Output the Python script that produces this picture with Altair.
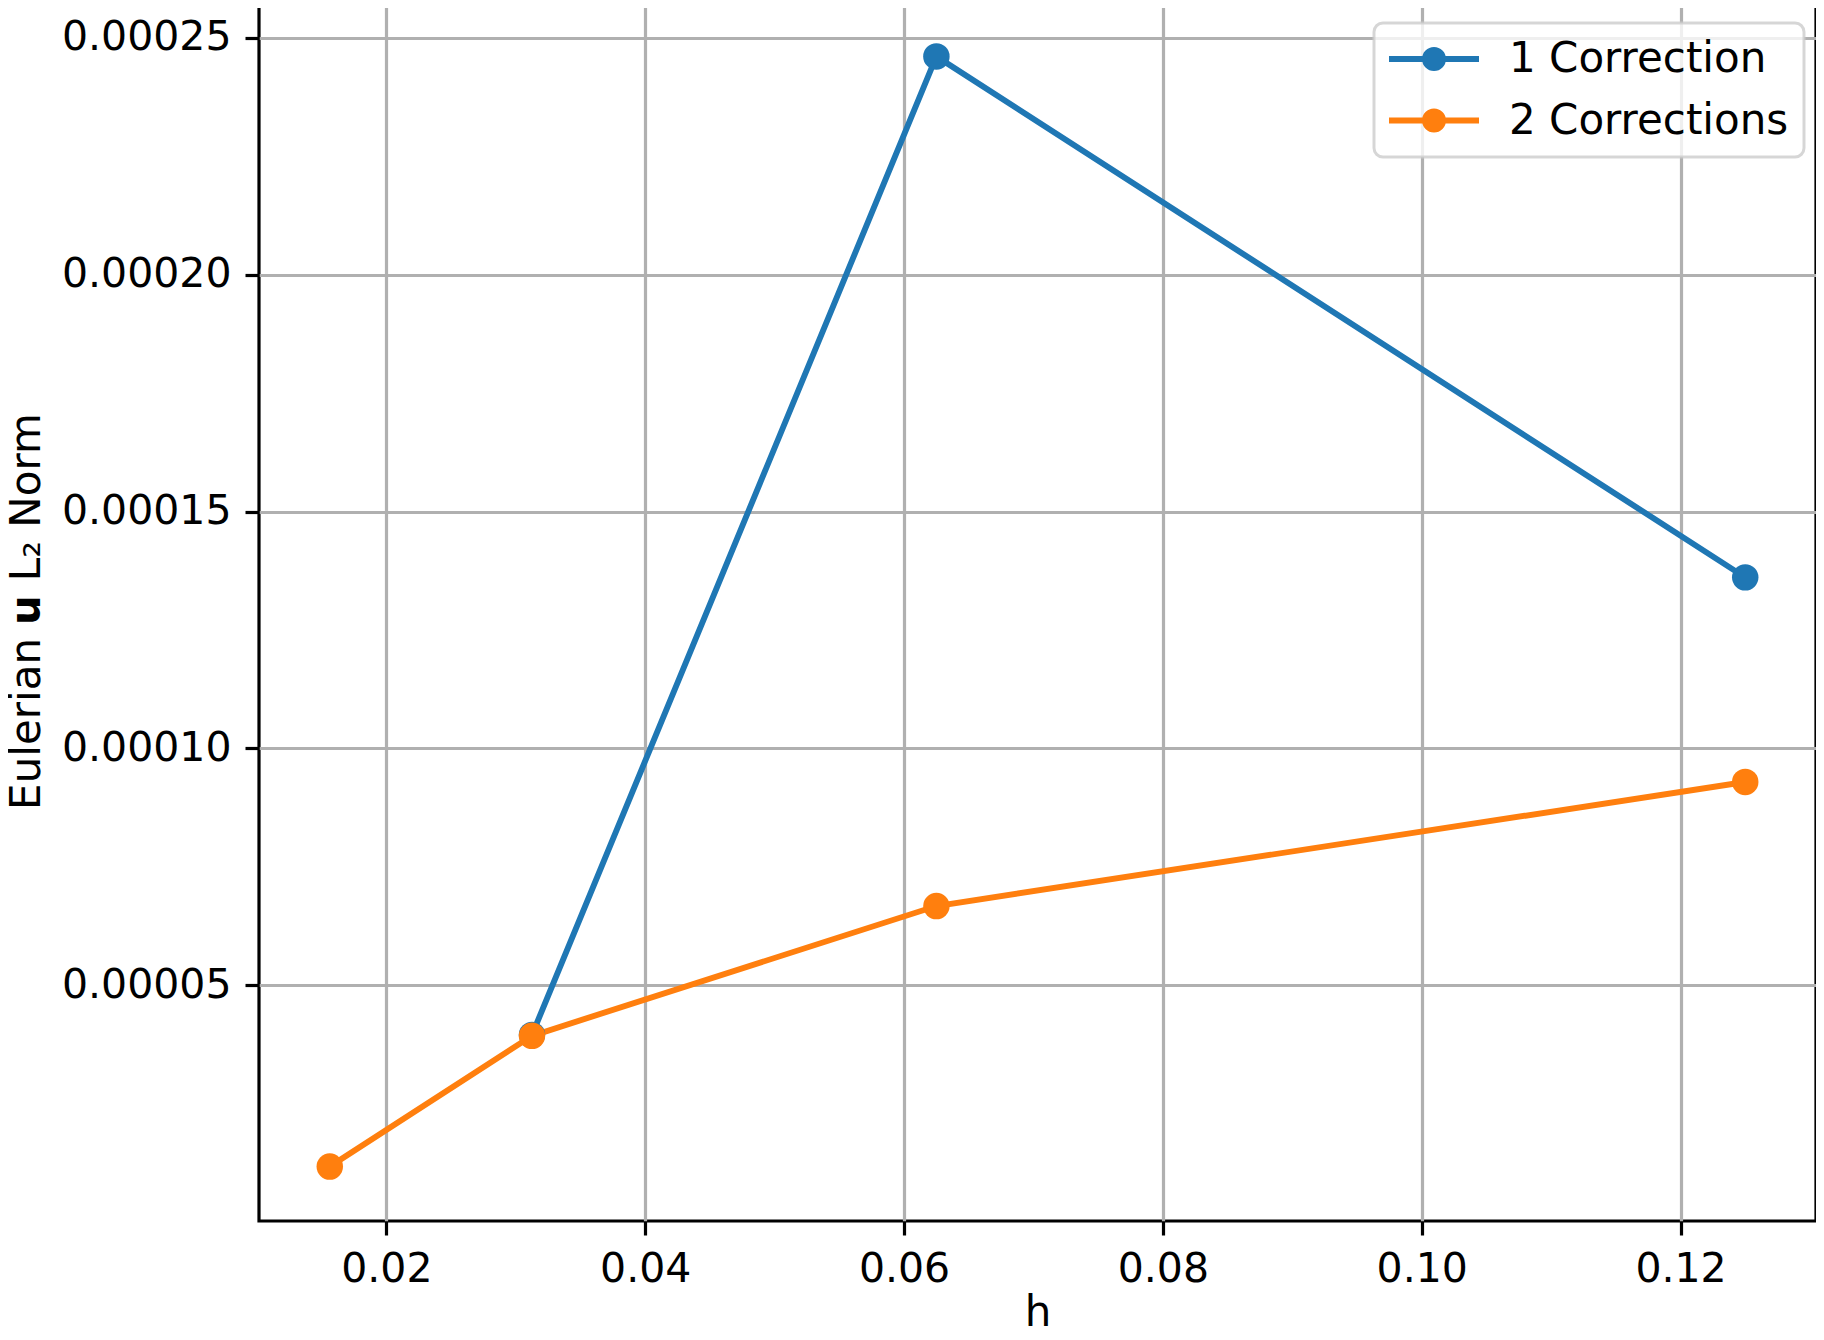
import altair as alt
import pandas as pd

h_one = [0.03125, 0.0625, 0.125]
err_one = [0.0000395, 0.0002461, 0.0001361]
h_two = [0.015625, 0.03125, 0.0625, 0.125]
err_two = [0.0000117, 0.0000393, 0.0000667, 0.0000929]
series = ["1 Correction", "2 Corrections"]
colors = ["#1f77b4", "#ff7f0e"]
x_ticks = [0.02, 0.04, 0.06, 0.08, 0.10, 0.12]
y_ticks = [0.00005, 0.00010, 0.00015, 0.00020, 0.00025]

df = pd.concat([
    pd.DataFrame({"h": h_one, "err": err_one, "series": series[0]}),
    pd.DataFrame({"h": h_two, "err": err_two, "series": series[1]}),
])

FONT = "DejaVu Sans"
# legend symbol: horizontal line with a disc (drawn by strokes)
sym = ("M-1.4,0H4.6"
       "M1.8,0A0.2,0.2 0 1 1 1.4,0A0.2,0.2 0 1 1 1.8,0Z"
       "M2.2,0A0.6,0.6 0 1 1 1.0,0A0.6,0.6 0 1 1 2.2,0Z")

x = alt.X("h:Q", title="h",
          scale=alt.Scale(domain=[0.010156, 0.130469], nice=False, zero=False),
          axis=alt.Axis(values=x_ticks, format=".2f", labelFlush=False,
                        labelOverlap=False, titlePadding=3))
y = alt.Y("err:Q", title="Eulerian 𝘂 L₂ Norm",
          scale=alt.Scale(domain=[0.0000002, 0.0002578], nice=False, zero=False),
          axis=alt.Axis(values=y_ticks, format=".5f", labelFlush=False,
                        labelOverlap=False, titlePadding=13))
color = alt.Color("series:N", scale=alt.Scale(domain=series, range=colors),
                  legend=alt.Legend(title=None, orient="none", legendX=1115, legendY=22,
                                    symbolType=sym, symbolSize=900,
                                    symbolStrokeWidth=6, labelOffset=78,
                                    labelFont=FONT, labelFontSize=42, labelLimit=0,
                                    labelColor="black", rowPadding=19.5,
                                    padding=15,
                                    fillColor="rgba(255,255,255,0.8)",
                                    strokeColor="rgba(204,204,204,0.8)"))

chart = alt.Chart(df).mark_line(
    strokeWidth=5.9,
    point=alt.OverlayMarkDef(filled=True, size=700, opacity=1, strokeWidth=0),
).encode(x=x, y=y, color=color, order="h:Q", detail="series:N").properties(
    width=1557, height=1220,
    autosize=alt.AutoSizeParams(type="none"),
    padding={"left": 251, "top": -7, "right": 0, "bottom": 105},
).configure_view(
    stroke="black", strokeWidth=3.2
).configure_legend(
    strokeWidth=3, cornerRadius=9
).configure_axis(
    grid=True, gridColor="#b0b0b0", gridWidth=3.2, domain=False,
    tickColor="black", tickWidth=3.2, tickSize=14, labelPadding=14,
    labelFont=FONT, labelFontSize=41, labelColor="black",
    titleFont=FONT, titleFontSize=42, titleFontWeight="normal", titleColor="black",
)

chart.save("out.html", embed_options={"renderer": "svg", "actions": False})
